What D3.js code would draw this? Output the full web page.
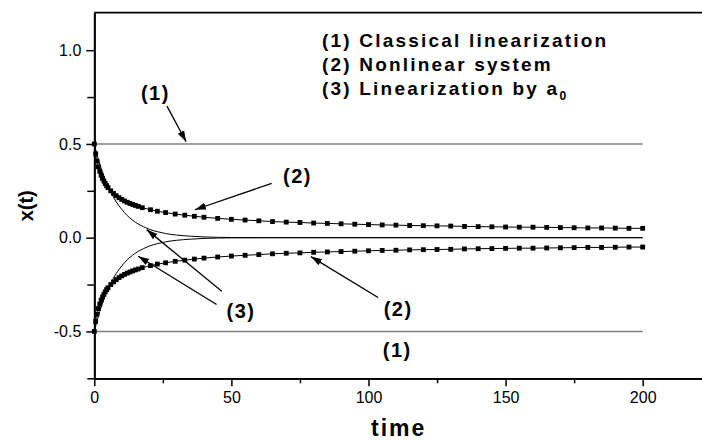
<!DOCTYPE html>
<html>
<head>
<meta charset="utf-8">
<script src="https://cdn.jsdelivr.net/npm/d3@7"></script>
<style>
  body { margin: 0; background: #fff; }
  svg { display: block; font-family: "Liberation Sans", Arial, sans-serif; }
</style>
</head>
<body>
<div id="chart"></div>
<script>
// time samples of the nonlinear system (square markers)
var nlTime = [0, 0.5, 1, 1.5, 2, 2.5, 3, 3.5, 4, 4.5, 5, 6, 7, 8, 9, 10, 11, 12, 13, 14, 15, 16,
  17.5, 20.5, 23, 26, 29.5, 33, 36.5, 40, 45, 50, 55, 60, 65, 70, 75, 80, 85, 90, 95, 100,
  105, 110, 115, 120, 125, 130, 135, 140, 145, 150, 155, 160, 165, 170, 175, 180, 185, 190, 195, 200];
var nlUpper = [0.5, 0.447, 0.408, 0.378, 0.354, 0.333, 0.316, 0.302, 0.289, 0.277, 0.267, 0.25, 0.236, 0.224, 0.213, 0.204, 0.196, 0.189, 0.183, 0.177, 0.172, 0.167,
  0.160, 0.149, 0.141, 0.134, 0.126, 0.120, 0.114, 0.109, 0.103, 0.098, 0.094, 0.090, 0.086, 0.083, 0.081, 0.078, 0.076, 0.074, 0.072, 0.070,
  0.068, 0.067, 0.065, 0.064, 0.063, 0.062, 0.060, 0.059, 0.058, 0.057, 0.056, 0.056, 0.055, 0.054, 0.053, 0.052, 0.052, 0.051, 0.050, 0.050];
var nlLower = [-0.5, -0.447, -0.408, -0.378, -0.354, -0.333, -0.316, -0.302, -0.289, -0.277, -0.267, -0.25, -0.236, -0.224, -0.213, -0.204, -0.196, -0.189, -0.183, -0.177, -0.172, -0.167,
  -0.160, -0.149, -0.141, -0.134, -0.126, -0.120, -0.114, -0.109, -0.103, -0.098, -0.094, -0.090, -0.086, -0.083, -0.081, -0.078, -0.076, -0.074, -0.072, -0.070,
  -0.068, -0.067, -0.065, -0.064, -0.063, -0.062, -0.060, -0.059, -0.058, -0.057, -0.056, -0.056, -0.055, -0.054, -0.053, -0.052, -0.052, -0.051, -0.050, -0.050];

// linearization by a0 (thin lines)
var a0Time = [0, 1, 2, 3, 4, 5, 6, 7, 8, 9, 10, 12, 14, 16, 18, 20, 23, 26, 30, 35, 40, 50, 60, 80, 120, 200];
var a0Upper = [0.5, 0.444, 0.393, 0.349, 0.309, 0.274, 0.243, 0.216, 0.191, 0.170, 0.151, 0.118, 0.093, 0.073, 0.058, 0.045, 0.032, 0.022, 0.014, 0.008, 0.004, 0.001, 0.0004, 0, 0, 0];
var a0Lower = [-0.5, -0.444, -0.393, -0.349, -0.309, -0.274, -0.243, -0.216, -0.191, -0.170, -0.151, -0.118, -0.093, -0.073, -0.058, -0.045, -0.032, -0.022, -0.014, -0.008, -0.004, -0.001, -0.0004, 0, 0, 0];

// classical linearization (constant)
var clTime = [0, 200];
var clUpper = [0.5, 0.5];
var clLower = [-0.5, -0.5];

var xMajor = [0, 50, 100, 150, 200];
var xMinor = [25, 75, 125, 175];
var yMajor = [-0.5, 0, 0.5, 1.0];
var yMinor = [-0.75, -0.25, 0.25, 0.75];

var legendLines = ["(1) Classical linearization", "(2) Nonlinear system", "(3) Linearization by a"];

var width = 702, height = 440;
var margin = {top: 12.7, right: -1, bottom: 61.7, left: 94.3};

var svg = d3.select("#chart").append("svg")
  .attr("width", width)
  .attr("height", height);

var x = d3.scaleLinear().domain([0, 222]).range([margin.left, width - margin.right]);
var y = d3.scaleLinear().domain([-0.75, 1.2]).range([height - margin.bottom, margin.top]);

var defs = svg.append("defs");
defs.append("marker")
  .attr("id", "arrow")
  .attr("viewBox", "0 0 10 10")
  .attr("refX", 10).attr("refY", 5)
  .attr("markerWidth", 11).attr("markerHeight", 11)
  .attr("markerUnits", "userSpaceOnUse")
  .attr("orient", "auto")
  .append("path")
  .attr("d", "M0,1.8 L10,5 L0,8.2 Z")
  .attr("fill", "#000");

function toPts(ts, vs) { return ts.map(function(t, i) { return [t, vs[i]]; }); }

var line = d3.line().x(function(d) { return x(d[0]); }).y(function(d) { return y(d[1]); });
var smooth = d3.line().curve(d3.curveMonotoneX).x(function(d) { return x(d[0]); }).y(function(d) { return y(d[1]); });

// (1) classical linearization
[clUpper, clLower].forEach(function(vals) {
  svg.append("path").datum(toPts(clTime, vals))
    .attr("d", line).attr("fill", "none")
    .attr("stroke", "#7f7f7f").attr("stroke-width", 1.6);
});

// (3) linearization by a0
[a0Upper, a0Lower].forEach(function(vals) {
  svg.append("path").datum(toPts(a0Time, vals))
    .attr("d", smooth).attr("fill", "none")
    .attr("stroke", "#000").attr("stroke-width", 1);
});

// (2) nonlinear system
[nlUpper, nlLower].forEach(function(vals) {
  var pts = toPts(nlTime, vals);
  svg.append("path").datum(pts)
    .attr("d", smooth).attr("fill", "none")
    .attr("stroke", "#000").attr("stroke-width", 1);
  svg.append("g").selectAll("rect").data(pts).enter().append("rect")
    .attr("x", function(d) { return x(d[0]) - 2.4; })
    .attr("y", function(d) { return y(d[1]) - 2.4; })
    .attr("width", 4.8).attr("height", 4.8)
    .attr("fill", "#000");
});

// axes
var fmt = function(d) { return d.toFixed(1); };
svg.append("g").attr("transform", "translate(" + margin.left + ",0)")
  .call(d3.axisLeft(y).tickValues(yMajor).tickFormat(fmt).tickSize(8).tickPadding(5).tickSizeOuter(0));
svg.append("g").attr("transform", "translate(" + margin.left + ",0)")
  .call(d3.axisLeft(y).tickValues(yMinor).tickFormat("").tickSize(7).tickSizeOuter(0));
svg.append("g").attr("transform", "translate(0," + (height - margin.bottom) + ")")
  .call(d3.axisBottom(x).tickValues(xMajor).tickSize(8).tickPadding(5).tickSizeOuter(0));
svg.append("g").attr("transform", "translate(0," + (height - margin.bottom) + ")")
  .call(d3.axisBottom(x).tickValues(xMinor).tickFormat("").tickSize(5).tickSizeOuter(0));

svg.selectAll(".domain").attr("stroke-width", 1.8);
svg.selectAll(".tick line").attr("stroke-width", 1.5);
svg.selectAll(".tick text").attr("font-size", 16).attr("font-family", "Liberation Sans, Arial, sans-serif").attr("fill", "#000");

// top frame line
svg.append("line")
  .attr("x1", margin.left).attr("x2", width)
  .attr("y1", margin.top).attr("y2", margin.top)
  .attr("stroke", "#000").attr("stroke-width", 1.8);

// axis titles
svg.append("text")
  .attr("transform", "translate(33," + y(0.17) + ") rotate(-90)")
  .attr("text-anchor", "middle")
  .attr("font-size", 20).attr("font-weight", "bold")
  .text("x(t)");
svg.append("text")
  .attr("x", x(111)).attr("y", 436)
  .attr("text-anchor", "middle")
  .attr("font-size", 23).attr("font-weight", "bold")
  .attr("letter-spacing", 2)
  .text("time");

// legend
var lg = svg.append("text")
  .attr("font-size", 19).attr("font-weight", "bold").attr("letter-spacing", 2.2);
legendLines.forEach(function(s, i) {
  lg.append("tspan").attr("x", 322).attr("y", 47 + i * 23.8).text(s);
});
lg.append("tspan").attr("font-size", 12).attr("dy", 5).text("0");

// annotations
var labels = [
  {t: 22.3, v: 0.734, s: "(1)"},
  {t: 110.5, v: -0.638, s: "(1)"},
  {t: 74.1, v: 0.293, s: "(2)"},
  {t: 110.8, v: -0.42, s: "(2)"},
  {t: 53.5, v: -0.426, s: "(3)"}
];
svg.append("g").selectAll("text").data(labels).enter().append("text")
  .attr("x", function(d) { return x(d.t); })
  .attr("y", function(d) { return y(d.v); })
  .attr("text-anchor", "middle")
  .attr("font-size", 20).attr("font-weight", "bold").attr("letter-spacing", 1.5)
  .text(function(d) { return d.s; });

var arrows = [
  [26.5, 0.702, 33.5, 0.512],
  [64.7, 0.29, 36.7, 0.149],
  [103.5, -0.319, 79, -0.101],
  [46.5, -0.286, 19.1, 0.043],
  [44.6, -0.356, 16.0, -0.099]
];
svg.append("g").selectAll("line").data(arrows).enter().append("line")
  .attr("x1", function(d) { return x(d[0]); })
  .attr("y1", function(d) { return y(d[1]); })
  .attr("x2", function(d) { return x(d[2]); })
  .attr("y2", function(d) { return y(d[3]); })
  .attr("stroke", "#000").attr("stroke-width", 1.3)
  .attr("marker-end", "url(#arrow)");
</script>
</body>
</html>
